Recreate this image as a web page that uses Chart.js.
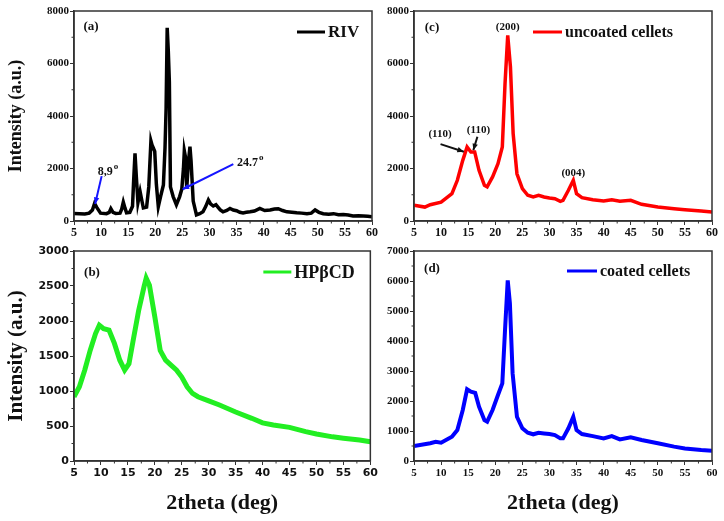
<!DOCTYPE html>
<html>
<head>
<meta charset="utf-8">
<script src="https://cdn.jsdelivr.net/npm/chart.js@4.4.1/dist/chart.umd.min.js"></script>
<style>
  body { margin: 0; background: #fff; }
  #wrap { position: relative; width: 724px; height: 521px; overflow: hidden; }
  canvas { position: absolute; }
</style>
</head>
<body>
<div id="wrap">
  <canvas id="pa" width="380" height="240" style="left:0;top:0"></canvas>
  <canvas id="pc" width="362" height="240" style="left:362px;top:0"></canvas>
  <canvas id="pb" width="380" height="281" style="left:0;top:240px"></canvas>
  <canvas id="pd" width="362" height="281" style="left:362px;top:240px"></canvas>
</div>
<script>
// values (2theta in deg, intensity in a.u.)
const xTicks = [5, 10, 15, 20, 25, 30, 35, 40, 45, 50, 55, 60];

const rivX = [5, 6, 7, 7.8, 8.4, 8.8, 9.2, 9.9, 11, 11.5, 11.8, 12.2, 12.7, 13.5, 13.8, 14.1, 14.4, 14.7,
  15.3, 15.8, 16.0, 16.26, 16.5, 16.8, 17.2, 17.5, 17.8, 18.4, 18.8, 19.2, 19.4, 19.6, 19.9, 20.2, 20.56,
  21.0, 21.5, 21.8, 22.0, 22.2, 22.4, 22.6, 22.8, 23.3, 23.9, 24.5, 24.9, 25.2, 25.36, 25.6, 25.8, 26.1,
  26.4, 26.6, 27.0, 27.6, 28.2, 28.8, 29.3, 29.8, 30.2, 30.7, 31.2, 31.6, 32.0, 32.5, 33.2, 33.8, 34.4,
  35.0, 35.6, 36.2, 36.8, 37.5, 38.3, 39.3, 40.2, 41.2, 42.0, 42.7, 43.5, 44.3, 45.2, 46.1, 47.0, 48.0,
  48.8, 49.5, 50.2, 51.0, 52.0, 52.9, 53.8, 54.7, 55.6, 56.5, 57.5, 58.4, 59.2, 60];
const rivY = [290, 280, 270, 300, 420, 670, 520, 300, 280, 330, 470, 330, 290, 300, 450, 720, 500, 310,
  330, 560, 1500, 2580, 1700, 700, 1120, 800, 500, 530, 1300, 3050, 2900, 2800, 2650, 1400, 545,
  950, 1370, 2800, 4300, 7360, 6500, 5300, 1300, 930, 620, 930, 1220, 2000, 2670, 2400, 1220, 2200,
  2830, 2300, 760, 230, 280, 350, 550, 800, 650, 570, 620, 520, 420, 350, 400, 480, 420,
  390, 330, 310, 330, 350, 380, 480, 400, 420, 460, 470, 400, 350, 330, 310, 300, 280,
  300, 420, 330, 280, 260, 280, 240, 250, 230, 190, 200, 190, 180, 160];

const hpX = [5, 6, 7, 8, 9, 9.7, 10.5, 11.5, 12.5, 13.5, 14.4, 15.2, 16, 17, 18, 18.4, 19, 20, 21, 22,
  23, 24, 25, 26, 27, 28, 30, 32, 35, 38, 40, 42, 45, 48, 50, 53, 55, 58, 60];
const hpY = [918, 1060, 1300, 1580, 1820, 1940, 1890, 1870, 1680, 1440, 1300, 1390, 1730, 2150, 2490, 2610,
  2510, 2060, 1580, 1440, 1370, 1300, 1200, 1060, 965, 918, 860, 800, 700, 610, 545, 515, 480, 420, 385,
  345, 325, 300, 275];

const uncX = [5, 7, 8, 10, 12, 13, 14, 14.8, 15.5, 16.2, 17, 18, 18.5, 19.5, 20.5, 21.3, 21.8, 22.3, 22.8,
  23.3, 24, 25, 26, 27, 28, 29, 30, 31, 32, 32.5, 33.5, 34.4, 35, 36, 38, 40, 41.5, 43, 45, 47, 50, 53,
  55, 58, 60];
const uncY = [600, 530, 620, 720, 1040, 1550, 2310, 2820, 2630, 2630, 1930, 1360, 1300, 1680, 2180, 2820,
  5230, 7070, 5870, 3330, 1800, 1230, 980, 915, 980, 915, 875, 850, 750, 790, 1170, 1550, 1040, 890, 810,
  760, 810, 750, 790, 635, 530, 470, 430, 380, 340];

const coatX = [5, 8, 9, 10, 12, 13, 14, 14.8, 15.5, 16.3, 17, 18, 18.5, 19.5, 20.5, 21.3, 21.8, 22.3, 22.7,
  23.2, 24, 25, 26, 27, 28, 29, 30, 31, 32, 32.5, 33.5, 34.4, 35, 36, 38, 40, 41.5, 43, 45, 47, 50, 53,
  55, 58, 60];
const coatY = [500, 590, 640, 610, 810, 1030, 1700, 2390, 2310, 2270, 1810, 1360, 1310, 1700, 2200, 2585,
  4360, 6020, 5250, 2920, 1475, 1090, 940, 890, 940, 920, 900, 865, 755, 755, 1090, 1475, 1030, 900, 830,
  755, 830, 720, 790, 700, 590, 480, 420, 365, 345];

const serif = 'Liberation Serif';

const decoPlugin = {
  id: 'deco',
  afterDraw(chart, args, o) {
    const { ctx, chartArea: a, scales: { x, y } } = chart;
    ctx.save();
    ctx.strokeStyle = '#333';
    ctx.lineWidth = 1.5;
    ctx.strokeRect(a.left, a.top, a.right - a.left, a.bottom - a.top);

    // minor ticks
    ctx.lineWidth = 1;
    ctx.beginPath();
    for (let v = x.min + 2.5; v < x.max; v += 5) {
      const px = x.getPixelForValue(v);
      ctx.moveTo(px, a.bottom); ctx.lineTo(px, a.bottom + 2.5);
    }
    for (let v = o.yMinor; v < y.max; v += o.yMinor * 2) {
      const py = y.getPixelForValue(v);
      ctx.moveTo(a.left, py); ctx.lineTo(a.left - 2.5, py);
    }
    ctx.stroke();

    // legend
    const ly = a.top + o.legend.dy;
    ctx.strokeStyle = o.color;
    ctx.lineWidth = 3;
    ctx.beginPath();
    ctx.moveTo(a.right - o.legend.x0, ly);
    ctx.lineTo(a.right - o.legend.x1, ly);
    ctx.stroke();
    ctx.fillStyle = '#111';
    ctx.font = 'bold ' + o.legend.size + 'px "' + serif + '"';
    ctx.textBaseline = 'middle';
    ctx.textAlign = 'left';
    ctx.fillText(o.legend.text, a.right - o.legend.x1 + 3, ly + 1);

    // panel letter
    ctx.font = 'bold 13px "' + serif + '"';
    ctx.textAlign = 'center';
    ctx.fillText(o.tag.text, a.left + o.tag.dx, a.top + o.tag.dy);

    // notes and arrows, placed in data units
    (o.notes || []).forEach(n => {
      ctx.font = 'bold ' + (n.size || 11) + 'px "' + serif + '"';
      ctx.fillStyle = '#111';
      ctx.textAlign = n.align || 'center';
      const tx = x.getPixelForValue(n.x), ty = y.getPixelForValue(n.y);
      ctx.fillText(n.text, tx, ty);
      if (n.sup) {
        const w = ctx.measureText(n.text).width;
        const sx = n.align === 'left' ? tx + w + 1 : tx + w / 2 + 1;
        ctx.font = 'bold 9px "' + serif + '"';
        ctx.textAlign = 'left';
        ctx.fillText(n.sup, sx, ty - 5);
      }
    });
    (o.arrows || []).forEach(r => {
      const x0 = x.getPixelForValue(r.from[0]), y0 = y.getPixelForValue(r.from[1]);
      const x1 = x.getPixelForValue(r.to[0]), y1 = y.getPixelForValue(r.to[1]);
      ctx.strokeStyle = r.color; ctx.fillStyle = r.color;
      ctx.lineWidth = 2;
      ctx.beginPath(); ctx.moveTo(x0, y0); ctx.lineTo(x1, y1); ctx.stroke();
      const ang = Math.atan2(y1 - y0, x1 - x0), h = 7;
      ctx.beginPath();
      ctx.moveTo(x1, y1);
      ctx.lineTo(x1 - h * Math.cos(ang - 0.4), y1 - h * Math.sin(ang - 0.4));
      ctx.lineTo(x1 - h * Math.cos(ang + 0.4), y1 - h * Math.sin(ang + 0.4));
      ctx.closePath(); ctx.fill();
    });
    ctx.restore();
  }
};

function panel(id, xs, ys, p) {
  const tickFont = { family: p.tickFamily || serif, weight: 'bold', size: p.tickSize || 11 };
  return new Chart(document.getElementById(id), {
    type: 'line',
    data: {
      datasets: [{
        data: xs.map((v, i) => ({ x: v, y: ys[i] })),
        borderColor: p.color,
        borderWidth: p.lineWidth || 3,
        pointRadius: 0,
        tension: 0,
        fill: false
      }]
    },
    options: {
      responsive: false,
      animation: false,
      layout: { padding: { top: p.top, right: p.right, left: 0, bottom: 0 } },
      plugins: {
        legend: { display: false },
        tooltip: { enabled: false },
        deco: {
          color: p.color, yMinor: p.yStep / 2,
          legend: p.legend, tag: p.tag, notes: p.notes, arrows: p.arrows
        }
      },
      scales: {
        x: {
          type: 'linear', min: 5, max: 60,
          afterBuildTicks: s => { s.ticks = xTicks.map(v => ({ value: v })); },
          ticks: {
            font: { ...tickFont, size: p.xTickSize || tickFont.size }, color: '#111',
            padding: p.xPad, maxRotation: 0, autoSkip: false, callback: v => String(v)
          },
          grid: { drawOnChartArea: false, tickLength: 4, color: '#333', lineWidth: 1 },
          border: { color: '#333', width: 1.5 },
          title: p.xTitle ? {
            display: true, text: '2theta (deg)', color: '#111',
            font: { family: serif, weight: 'bold', size: 22 }, padding: { top: 0, bottom: 4 }
          } : { display: false },
          afterFit: s => { s.height = p.xHeight; }
        },
        y: {
          type: 'linear', min: 0, max: p.yMax,
          ticks: { stepSize: p.yStep, font: tickFont, color: '#111', padding: 1, callback: v => String(v) },
          grid: { drawOnChartArea: false, tickLength: 4, color: '#333', lineWidth: 1 },
          border: { color: '#333', width: 1.5 },
          title: p.yTitle ? {
            display: true, text: 'Intensity (a.u.)', color: '#111',
            font: { family: serif, weight: 'bold', size: p.yTitleSize }, padding: { top: p.yTitlePad, bottom: 0 }
          } : { display: false },
          afterFit: s => { s.width = p.yWidth; }
        }
      }
    },
    plugins: [decoPlugin]
  });
}

panel('pa', rivX, rivY, {
  color: '#000', lineWidth: 3.5, top: 11, right: 8, yWidth: 74, xHeight: 19, xPad: 1, xTickSize: 12,
  yMax: 8000, yStep: 2000, yTitle: true, yTitleSize: 18, yTitlePad: 6,
  legend: { text: 'RIV', x0: 75, x1: 47, dy: 21, size: 17 },
  tag: { text: '(a)', dx: 17, dy: 16 },
  notes: [
    { text: '8,9', sup: 'o', x: 9.4, y: 1870, align: 'left', size: 12 },
    { text: '24.7', sup: 'o', x: 35.1, y: 2210, align: 'left', size: 12 }
  ],
  arrows: [
    { from: [10.1, 1710], to: [8.9, 650], color: '#1515ff' },
    { from: [34.4, 2170], to: [25.06, 1210], color: '#1515ff' }
  ]
});

panel('pc', uncX, uncY, {
  color: '#ff0000', lineWidth: 3.5, top: 11, right: 12, yWidth: 52, xHeight: 19, xPad: 1, xTickSize: 12,
  yMax: 8000, yStep: 2000, yTitle: false,
  legend: { text: 'uncoated cellets', x0: 179, x1: 150, dy: 21, size: 16 },
  tag: { text: '(c)', dx: 18, dy: 17 },
  notes: [
    { text: '(200)', x: 22.3, y: 7400 },
    { text: '(110)', x: 9.8, y: 3310 },
    { text: '(110)', x: 16.9, y: 3470 },
    { text: '(004)', x: 34.4, y: 1840 }
  ],
  arrows: [
    { from: [9.9, 2930], to: [14.2, 2640], color: '#111' },
    { from: [16.7, 3210], to: [15.95, 2700], color: '#111' }
  ]
});

panel('pb', hpX, hpY, {
  color: '#22ee22', lineWidth: 5, top: 11, right: 8, yWidth: 74, xHeight: 60, xPad: 2,
  tickFamily: 'DejaVu Sans', tickSize: 11,
  yMax: 3000, yStep: 500, yTitle: true, yTitleSize: 21, yTitlePad: 4, xTitle: true,
  legend: { text: 'HP\u03b2CD', x0: 107, x1: 79, dy: 21, size: 18 },
  tag: { text: '(b)', dx: 18, dy: 22 }
});

panel('pd', coatX, coatY, {
  color: '#0000ff', lineWidth: 4, top: 11, right: 12, yWidth: 52, xHeight: 60, xPad: 2,
  yMax: 7000, yStep: 1000, yTitle: false, xTitle: true,
  legend: { text: 'coated cellets', x0: 145, x1: 115, dy: 20, size: 16 },
  tag: { text: '(d)', dx: 18, dy: 18 }
});
</script>
</body>
</html>
